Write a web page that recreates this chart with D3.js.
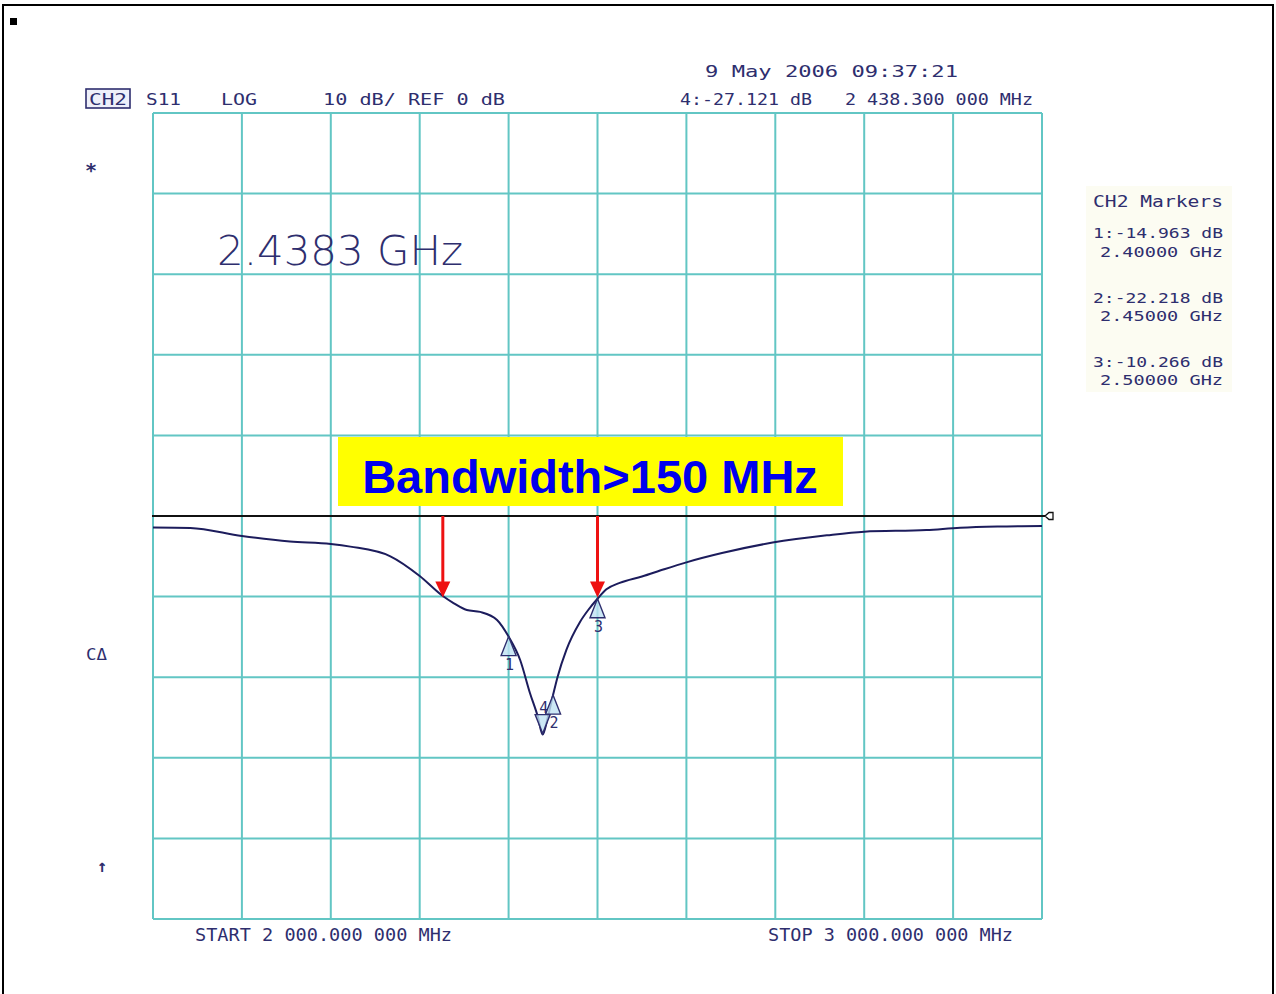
<!DOCTYPE html>
<html>
<head>
<meta charset="utf-8">
<script src="https://cdn.jsdelivr.net/npm/d3@7"></script>
<style>
  html, body { margin: 0; padding: 0; background: #fff; }
  svg { display: block; }
</style>
</head>
<body>
<svg id="chart" width="1276" height="994"></svg>
<script>
// ---------- data ----------
const freqMHz = [2000, 2042, 2100, 2154, 2200, 2222, 2267, 2300, 2326, 2338, 2353, 2368, 2387, 2400,
                 2413, 2424, 2433, 2438.3, 2444, 2450, 2455, 2465, 2480, 2490, 2500, 2510, 2525,
                 2550, 2575, 2600, 2640, 2697, 2758, 2800, 2870, 2908, 2950, 3000];
const s11dB   = [-1.43, -1.49, -2.48, -3.16, -3.47, -3.8, -5.0, -7.44, -9.93, -10.8, -11.66, -11.9, -12.9, -14.963,
                 -17.87, -21.96, -24.94, -27.121, -25.0, -22.218, -20.0, -16.6, -13.2, -11.6, -10.266, -9.1, -8.3,
                 -7.5, -6.6, -5.75, -4.6, -3.3, -2.4, -1.95, -1.74, -1.45, -1.3, -1.24];
const markerIds   = ["1", "2", "3"];
const markerFreq  = [2400, 2450, 2500];
const markerDb    = [-14.963, -22.218, -10.266];
const activeId = "4", activeFreq = 2438.3, activeDb = -27.121;
const arrowFreq = [2326, 2500];
const arrowFromDb = 0, arrowToDb = -10;
const refDb = 0;
const xDomain = [2000, 3000];
const yDomain = [-50, 50];
const headerLeft = ["CH2", "S11", "LOG", "10 dB/ REF 0 dB"];
const dateText = "9 May 2006  09:37:21";
const activeReadout = ["4:-27.121 dB", "2 438.300 000 MHz"];
const markerPanelTitle = "CH2 Markers";
const markerPanelLines = [["1:-14.963 dB", "2.40000 GHz"], ["2:-22.218 dB", "2.45000 GHz"], ["3:-10.266 dB", "2.50000 GHz"]];
const bigFreq = "2.4383 GHz";
const startText = "START 2 000.000 000 MHz";
const stopText = "STOP 3 000.000 000 MHz";
const calloutText = "Bandwidth>150 MHz";

// ---------- setup ----------
const svg = d3.select("#chart");
const navy = "#2e2e6e";
const grid = "#62c6c4";
const mono = "'DejaVu Sans Mono', monospace";

const x = d3.scaleLinear().domain(xDomain).range([153, 1042]);
const y = d3.scaleLinear().domain(yDomain).range([919, 113]);

// outer frame
svg.append("rect").attr("x", 3).attr("y", 5).attr("width", 1270).attr("height", 1000)
  .attr("fill", "none").attr("stroke", "#000").attr("stroke-width", 2);
svg.append("rect").attr("x", 10).attr("y", 18).attr("width", 7).attr("height", 7).attr("fill", "#000");

// marker panel faint background
svg.append("rect").attr("x", 1086).attr("y", 186).attr("width", 146).attr("height", 206).attr("fill", "#fcfcf2");

// grid
const g = svg.append("g");
g.selectAll("line.v").data(x.ticks(10)).join("line").attr("class", "v")
  .attr("x1", d => x(d)).attr("x2", d => x(d)).attr("y1", y(yDomain[1])).attr("y2", y(yDomain[0]))
  .attr("stroke", grid).attr("stroke-width", 2);
g.selectAll("line.h").data(y.ticks(10)).join("line").attr("class", "h")
  .attr("y1", d => y(d)).attr("y2", d => y(d)).attr("x1", x(xDomain[0])).attr("x2", x(xDomain[1]))
  .attr("stroke", grid).attr("stroke-width", 2);

// reference line
svg.append("line").attr("x1", x(xDomain[0]) - 1).attr("x2", x(xDomain[1]) + 3)
  .attr("y1", y(refDb)).attr("y2", y(refDb)).attr("stroke", "#111").attr("stroke-width", 2);
const ry = y(refDb), rx = x(xDomain[1]) + 3;
svg.append("path")
  .attr("d", `M${rx},${ry} L${rx + 4},${ry - 3.5} L${rx + 8},${ry - 3.5} L${rx + 8},${ry + 3.5} L${rx + 4},${ry + 3.5} Z`)
  .attr("fill", "#fff").attr("stroke", "#111").attr("stroke-width", 1.3);

// trace
const pts = freqMHz.map((f, i) => [f, s11dB[i]]);
svg.append("path").datum(pts)
  .attr("d", d3.line().x(d => x(d[0])).y(d => y(d[1])).curve(d3.curveMonotoneX))
  .attr("fill", "none").attr("stroke", "#1c1c5c").attr("stroke-width", 2);

// markers (triangles pointing up, apex at point)
const mk = svg.append("g");
markerIds.forEach((id, i) => {
  const px = x(markerFreq[i]), py = y(markerDb[i]);
  mk.append("path").attr("d", `M${px},${py} L${px + 7.5},${py + 19} L${px - 7.5},${py + 19} Z`)
    .attr("fill", "#bfe2f2").attr("fill-opacity", 0.8).attr("stroke", navy).attr("stroke-width", 1.4);
  mk.append("text").attr("x", px + 1).attr("y", py + 33).attr("text-anchor", "middle")
    .attr("font-family", mono).attr("font-size", 15).attr("fill", navy).text(id);
});
{
  const px = x(activeFreq), py = y(activeDb);
  mk.append("path").attr("d", `M${px},${py - 1} L${px + 7.5},${py - 20} L${px - 7.5},${py - 20} Z`)
    .attr("fill", "#bfe2f2").attr("fill-opacity", 0.8).attr("stroke", navy).attr("stroke-width", 1.4);
  mk.append("text").attr("x", px + 1).attr("y", py - 22).attr("text-anchor", "middle")
    .attr("font-family", mono).attr("font-size", 15).attr("fill", navy).text(activeId);
}

// red arrows
arrowFreq.forEach(f => {
  const ax = x(f), y0 = y(arrowFromDb), y1 = y(arrowToDb);
  svg.append("line").attr("x1", ax).attr("x2", ax).attr("y1", y0).attr("y2", y1 - 12)
    .attr("stroke", "#ee1111").attr("stroke-width", 3);
  svg.append("path").attr("d", `M${ax},${y1 + 1} L${ax - 7.5},${y1 - 15} L${ax + 7.5},${y1 - 15} Z`)
    .attr("fill", "#ee1111");
});

// callout
svg.append("rect").attr("x", 338).attr("y", 437).attr("width", 505).attr("height", 69).attr("fill", "#ffff00");
svg.append("text").attr("x", 590).attr("y", 493).attr("text-anchor", "middle")
  .attr("font-family", "'Liberation Sans', Arial, sans-serif").attr("font-weight", "bold")
  .attr("font-size", 47).attr("fill", "#0000ee").text(calloutText);

// ---------- instrument text ----------
function t(str, x0, x1, yb, size) {
  return svg.append("text").attr("x", x0).attr("y", yb)
    .attr("font-family", mono).attr("font-size", size || 16).attr("fill", navy)
    .attr("textLength", x1 - x0).attr("lengthAdjust", "spacingAndGlyphs").text(str);
}
// header
svg.append("rect").attr("x", 86).attr("y", 89).attr("width", 44).attr("height", 19)
  .attr("fill", "#eef0fa").attr("stroke", navy).attr("stroke-width", 1.6);
t(headerLeft[0], 89, 127, 105, 16);
t(headerLeft[1], 146, 181, 105, 16);
t(headerLeft[2], 221, 257, 105, 16);
t(headerLeft[3], 323, 505, 105, 16);
t(dateText, 705, 958, 77, 16);
t(activeReadout[0], 680, 812, 105, 16);
t(activeReadout[1], 845, 1033, 105, 16);

// marker panel
t(markerPanelTitle, 1093, 1223, 207, 15);
const panelY = [[238, 257], [303, 321], [367, 385]];
markerPanelLines.forEach((ln, i) => {
  t(ln[0], 1093, 1223, panelY[i][0], 14);
  t(ln[1], 1100, 1223, panelY[i][1], 14);
});

// side symbols
svg.append("text").attr("x", 91).attr("y", 177).attr("text-anchor", "middle")
  .attr("font-family", mono).attr("font-size", 20).attr("font-weight", "bold").attr("fill", navy).text("*");
t("C\u0394", 86, 107, 660, 15);
svg.append("text").attr("x", 102).attr("y", 872).attr("text-anchor", "middle")
  .attr("font-family", mono).attr("font-size", 17).attr("font-weight", "bold").attr("fill", navy).text("\u2191");

// big frequency
svg.append("text").attr("x", 217).attr("y", 265)
  .attr("font-family", "'DejaVu Sans', sans-serif").attr("font-weight", 200)
  .attr("font-size", 41).attr("fill", navy)
  .attr("textLength", 246).attr("lengthAdjust", "spacingAndGlyphs").text(bigFreq);

// start / stop
t(startText, 195, 452, 941, 17);
t(stopText, 768, 1013, 941, 17);
</script>
</body>
</html>
